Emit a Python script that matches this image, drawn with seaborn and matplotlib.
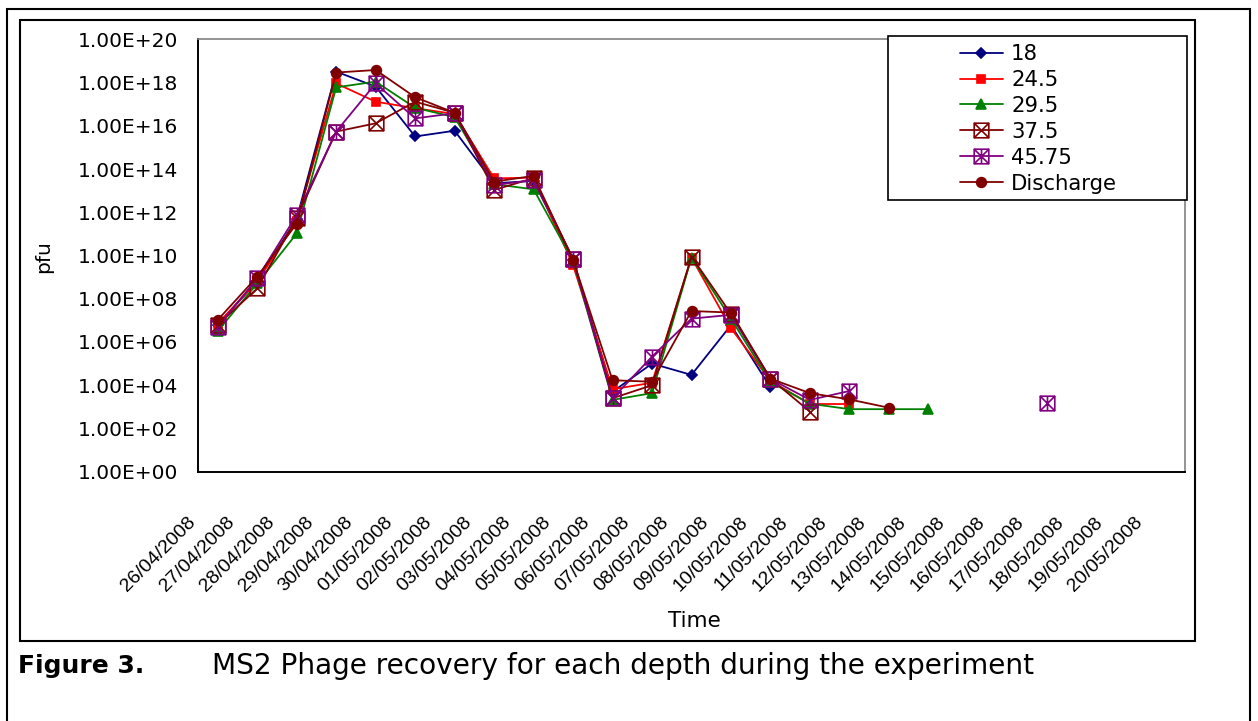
import numpy as np
import pandas as pd
import matplotlib
matplotlib.use("Agg")
import matplotlib.pyplot as plt
import seaborn as sns
from matplotlib.path import Path
from matplotlib.lines import Line2D
from matplotlib.patches import Rectangle
from matplotlib.transforms import ScaledTranslation
from matplotlib.ticker import FixedLocator, NullLocator

nan = np.nan

dates = ["26/04/2008", "27/04/2008", "28/04/2008", "29/04/2008", "30/04/2008",
         "01/05/2008", "02/05/2008", "03/05/2008", "04/05/2008", "05/05/2008",
         "06/05/2008", "07/05/2008", "08/05/2008", "09/05/2008", "10/05/2008",
         "11/05/2008", "12/05/2008", "13/05/2008", "14/05/2008", "15/05/2008",
         "16/05/2008", "17/05/2008", "18/05/2008", "19/05/2008", "20/05/2008"]

s18 = [6.3e6, 6.3e8, 5.0e11, 3.2e18, 6.5e17, 3.2e15, 5.9e15, 2.2e13, 2.8e13, 6.3e9,
       5.0e3, 1.0e5, 3.0e4, 6.0e6, 8.0e3, nan, nan, nan, nan, nan,
       nan, nan, nan, nan, nan]
s24_5 = [7.1e6, 6.3e8, 4.0e11, 9.1e17, 1.3e17, 6.5e16, 3.5e16, 3.7e13, 4.0e13, 3.6e9,
         6.5e3, 1.3e4, 8.0e9, 4.3e6, 1.6e4, 1.35e3, 1.35e3, nan, nan, nan,
         nan, nan, nan, nan, nan]
s29_5 = [3.2e6, 5.1e8, 1.05e11, 6.0e17, 1.1e18, 6.8e16, 2.5e16, 2.0e13, 1.15e13, 5.6e9,
         2.1e3, 4.3e3, 8.0e9, 1.2e7, 1.4e4, 1.4e3, 7.8e2, 7.8e2, 7.8e2, nan,
         nan, nan, nan, nan, nan]
s37_5 = [6.2e6, 3.0e8, 5.4e11, 5.4e15, 1.3e16, 1.3e17, 4.0e16, 1.07e13, 3.8e13, 7.1e9,
         2.5e3, 1.0e4, 8.9e9, 2.0e7, 2.0e4, 6.0e2, nan, nan, nan, nan,
         nan, nan, nan, nan, nan]
s45_75 = [5.1e6, 8.7e8, 7.4e11, 5.4e15, 9.1e17, 2.2e16, 3.8e16, 1.8e13, 3.1e13, 7.1e9,
          2.5e3, 2.1e5, 1.2e7, 1.8e7, 1.95e4, 2.1e3, 5.4e3, nan, nan, nan,
          nan, 1.45e3, nan, nan, nan]
s_discharge = [1.05e7, 1.05e9, 3.0e11, 2.9e18, 3.8e18, 2.1e17, 4.0e16, 2.6e13, 4.8e13, 6.3e9,
               1.7e4, 1.45e4, 2.7e7, 2.3e7, 2.0e4, 4.3e3, 2.2e3, 9.1e2, nan, nan,
               nan, nan, nan, nan, nan]

series_names = ["18", "24.5", "29.5", "37.5", "45.75", "Discharge"]
series_values = [s18, s24_5, s29_5, s37_5, s45_75, s_discharge]

yticks_exp = list(range(0, 21, 2))

# ---- styles ----
M, L, C = Path.MOVETO, Path.LINETO, Path.CLOSEPOLY
box_x = Path([(-1, -1), (1, -1), (1, 1), (-1, 1), (-1, -1),
              (-1, -1), (1, 1), (-1, 1), (1, -1)],
             [M, L, L, L, C, M, L, M, L])
box_star = Path([(-1, -1), (1, -1), (1, 1), (-1, 1), (-1, -1),
                 (-1, -1), (1, 1), (-1, 1), (1, -1), (0, -1), (0, 1)],
                [M, L, L, L, C, M, L, M, L, M, L])

styles = {
    "18":        dict(color="#000080", marker="D", ms=5.0, filled=True),
    "24.5":      dict(color="#FF0000", marker="s", ms=5.8, filled=True),
    "29.5":      dict(color="#008000", marker="^", ms=7.5, filled=True),
    "37.5":      dict(color="#800000", marker=box_x, ms=10.5, filled=False),
    "45.75":     dict(color="#800080", marker=box_star, ms=10.5, filled=False),
    "Discharge": dict(color="#800000", marker="o", ms=7.0, filled=True),
}

W, H = 1258, 721
sns.set_style("white")
plt.rcParams["font.family"] = ["DejaVu Sans"]
for k in ["text.color", "axes.labelcolor", "xtick.color", "ytick.color", "axes.edgecolor"]:
    plt.rcParams[k] = "black"

fig = plt.figure(figsize=(W / 100, H / 100), dpi=100)
fig.patch.set_facecolor("white")

px0, px1, py0, py1 = 198, 1185, 39.3, 471.7
ax = fig.add_axes([px0 / W, 1 - py1 / H, (px1 - px0) / W, (py1 - py0) / H])
ax.set_yscale("log")

idx = np.arange(len(dates))
for name, vals in zip(series_names, series_values):
    st = styles[name]
    df = pd.DataFrame({"x": idx, "y": vals})
    df["seg"] = df["y"].isna().cumsum()
    df = df.dropna()
    for _, seg in df.groupby("seg"):
        sns.lineplot(data=seg, x="x", y="y", ax=ax, estimator=None, sort=False,
                     color=st["color"], marker=st["marker"], markersize=st["ms"],
                     markeredgecolor=st["color"],
                     markerfacecolor=st["color"] if st["filled"] else "none",
                     markeredgewidth=1.2, linewidth=1.3, legend=False)

ax.set_xlim(-0.5, len(dates) - 0.5)
ax.set_ylim(1, 1e20)
ax.yaxis.set_major_locator(FixedLocator([10.0 ** e for e in yticks_exp]))
ax.yaxis.set_minor_locator(NullLocator())
ax.set_yticklabels([f"1.00E+{e:02d}" for e in yticks_exp], fontsize=14.5, color="black")
ax.tick_params(axis="y", direction="out", length=5, width=1, pad=9, colors="black")

major_x = np.arange(-0.5, len(dates), 1.0)
ax.set_xticks(major_x)
ax.set_xticklabels([""] * len(major_x))
ax.set_xticks(idx, minor=True)
ax.set_xticklabels(dates, minor=True, rotation=45, ha="right", va="top",
                   rotation_mode="anchor", fontsize=14, family=["Liberation Sans"],
                   color="black")
ax.tick_params(axis="x", which="major", direction="out", length=5, width=1, colors="black")
ax.tick_params(axis="x", which="minor", length=0, pad=0)
off = ScaledTranslation(-31 / 100, -42 / 100, fig.dpi_scale_trans)
for lbl in ax.get_xticklabels(minor=True):
    lbl.set_transform(lbl.get_transform() + off)

ax.set_xlabel("")
ax.set_ylabel("")
for side in ["left", "bottom"]:
    ax.spines[side].set_color("black")
    ax.spines[side].set_linewidth(1.4)
for side in ["top", "right"]:
    ax.spines[side].set_color("#808080")
    ax.spines[side].set_linewidth(1.2)
ax.grid(False)

fig.text(44 / W, 1 - 257 / H, "pfu", rotation=90, ha="center", va="center",
         fontsize=14.5, color="black")
fig.text(694 / W, 1 - 621 / H, "Time", ha="center", va="center", fontsize=15.5,
         color="black")

# frames
def frect(x0, y0, x1, y1, **kw):
    r = Rectangle((x0 / W, 1 - y1 / H), (x1 - x0) / W, (y1 - y0) / H,
                  transform=fig.transFigure, **kw)
    fig.add_artist(r)
    return r

frect(7, 9, 1250, 730, fill=False, edgecolor="black", linewidth=1.5, zorder=3)
frect(20, 20, 1195, 641, fill=False, edgecolor="black", linewidth=1.5, zorder=3)
frect(888, 36, 1187, 200, facecolor="white", edgecolor="black", linewidth=1.2, zorder=4)

handles = []
for name in series_names:
    st = styles[name]
    handles.append(Line2D([], [], color=st["color"], marker=st["marker"], markersize=st["ms"],
                          markeredgecolor=st["color"],
                          markerfacecolor=st["color"] if st["filled"] else "none",
                          markeredgewidth=1.2, linewidth=1.3))
leg = fig.legend(handles, series_names, loc="upper left",
                 bbox_to_anchor=(960 / W, 1 - 44 / H), bbox_transform=fig.transFigure,
                 frameon=False, borderpad=0, borderaxespad=0, handlelength=2.0,
                 handletextpad=0.4, labelspacing=0.28, fontsize=15.3, numpoints=1)
for t in leg.get_texts():
    t.set_color("black")
leg.set_zorder(5)

fig.text(18 / W, 1 - 666 / H, "Figure 3.", fontsize=18, fontweight="bold",
         ha="left", va="center", color="black")
fig.text(212 / W, 1 - 666 / H, "MS2 Phage recovery for each depth during the experiment",
         fontsize=20.2, ha="left", va="center", color="black")

fig.savefig("out.png", dpi=100, facecolor="white")
